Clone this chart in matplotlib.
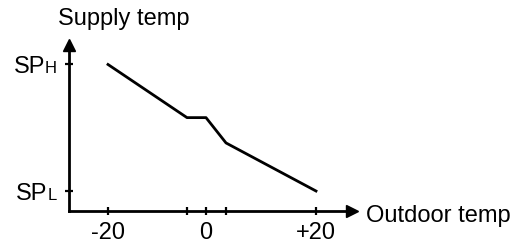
import numpy as np
import matplotlib
matplotlib.use("Agg")
import matplotlib.pyplot as plt

plt.rcParams["font.family"] = ["Liberation Sans", "DejaVu Sans"]

# schematic heating curve: outdoor temp vs supply setpoint (0 = SP_L, 1 = SP_H)
outdoor = [-20, -4, 0, 4, 20]
supply = [1.0, 0.58, 0.58, 0.38, 0.0]

x_ticks = [-20, -4, 0, 4, 20]
x_labels = ["-20", "", "0", "", "+20"]
y_ticks = [0, 1]
y_labels = [("SP", "L"), ("SP", "H")]

# the drawing is not to scale: uneven piecewise spacing along the x axis
knots = [-60, -20, -4, 0, 4, 20, 60]
spots = [-197.5, 0, 79, 98, 118, 208, 433]


def fwd(x):
    return np.interp(x, knots, spots)


def inv(s):
    return np.interp(s, spots, knots)


W, H = 512, 243
fig = plt.figure(figsize=(W / 100, H / 100), dpi=100)
ax = fig.add_axes([69 / W, (H - 211) / H, (352 - 69) / W, (211 - 45) / H])

ax.set_xscale("function", functions=(fwd, inv))
ax.plot(outdoor, supply, color="black", lw=2)

ax.set_xlim(-27.9, 26.4)
ax.set_ylim(-0.158, 1.154)

for side in ("top", "right"):
    ax.spines[side].set_visible(False)
for side in ("left", "bottom"):
    ax.spines[side].set_linewidth(2)
    ax.spines[side].set_color("black")

# axis arrows
ax.plot(1, 0, ">k", ms=8.6, transform=ax.transAxes, clip_on=False)
ax.plot(0, 1, "^k", ms=8.6, transform=ax.transAxes, clip_on=False)

ax.set_xticks(x_ticks)
ax.set_xticklabels(x_labels)
ax.minorticks_off()
ax.set_yticks(y_ticks)
ax.set_yticklabels([])
ax.tick_params(direction="inout", length=6, width=1.6, labelsize=17, pad=5)

for val, (main, sub) in zip(y_ticks, y_labels):
    t = ax.annotate(sub, xy=(0, val), xycoords=("axes fraction", "data"),
                    xytext=(-12, -9), textcoords="offset pixels",
                    ha="right", va="baseline", fontsize=12)
    ax.annotate(main, xy=(0, 0), xycoords=t, xytext=(0, -1.1),
                textcoords="offset points", ha="right", va="bottom", fontsize=17)

ax.annotate("Supply temp", xy=(0, 1), xycoords="axes fraction",
            xytext=(-11, 20), textcoords="offset pixels",
            ha="left", va="baseline", fontsize=17)
ax.annotate("Outdoor temp", xy=(1, 0), xycoords="axes fraction",
            xytext=(14, -11), textcoords="offset pixels",
            ha="left", va="baseline", fontsize=17)

fig.savefig("out.png", dpi=100)
